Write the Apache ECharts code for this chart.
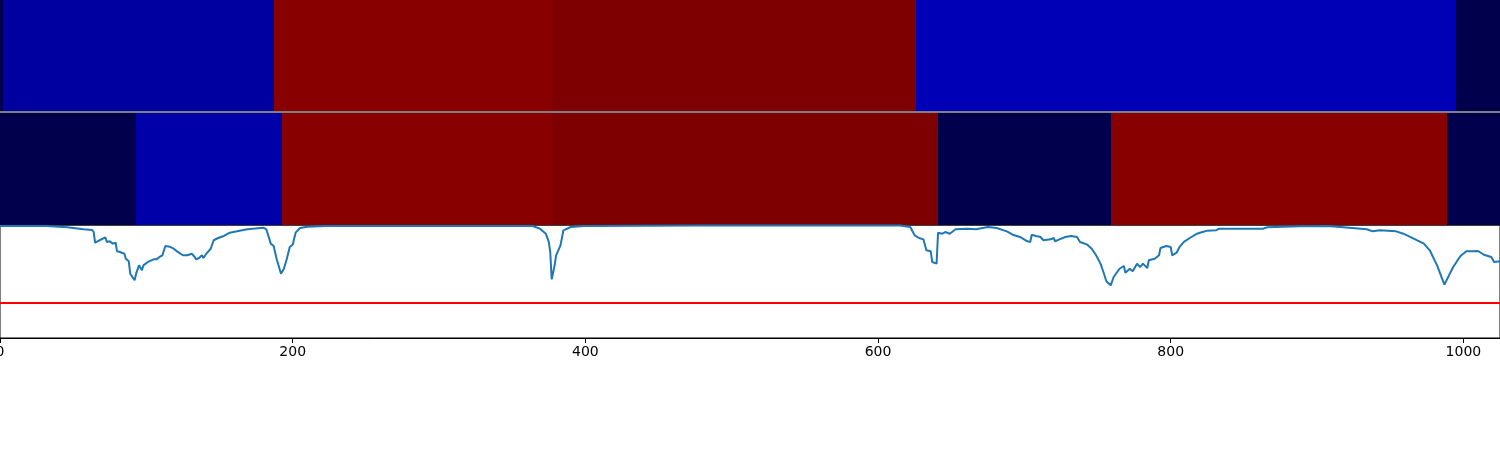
<!DOCTYPE html>
<html>
<head>
<meta charset="utf-8">
<script src="https://cdn.jsdelivr.net/npm/echarts@6/dist/echarts.min.js"></script>
<style>html,body{margin:0;padding:0;background:#fff;}#c{width:1500px;height:450px;}</style>
</head>
<body>
<div id="c"></div>
<script>
// ---- data ----
const xMax = 1025;
const xTicks = [0, 200, 400, 600, 800, 1000];
// top row segments (edges along x, colormap level per segment, 0..1 seismic)
const topEdges  = [0, 2, 187, 377, 626, 995, 1025];
const topLevels = [0, 0.117, 0.983, 1.0, 0.15, 0];
// second row segments
const midEdges  = [0, 93, 193, 377, 641, 759, 989, 1025];
const midLevels = [0, 0.13, 0.983, 1.0, 0, 0.983, 0];
// line trace
const lineX = [0,14,32,46,57,63,64,65,68,72,73,75,77,79,80,82,85,86,88,89,90,92,93,95,97,98,101,105,107,109,111,113,116,118,121,125,128,131,133,134,136,138,139,141,144,146,149,153,157,162,169,180,182,185,187,189,192,194,196,198,200,202,205,210,223,294,364,369,373,375,376,377,379,380,383,385,390,399,478,547,615,622,625,628,631,633,636,637,640,641,644,646,649,653,661,667,675,681,688,692,697,702,704,705,708,711,713,718,720,721,724,728,729,732,736,738,743,746,749,752,754,756,759,761,765,768,769,772,774,777,779,781,784,785,789,792,793,797,800,801,804,806,809,813,818,820,825,831,833,863,866,888,907,918,934,938,943,954,959,966,973,977,982,987,993,998,1002,1007,1010,1014,1019,1021,1025];
const lineY = [0.991,0.992,0.991,0.980,0.962,0.956,0.938,0.843,0.865,0.891,0.850,0.856,0.835,0.843,0.767,0.761,0.746,0.702,0.679,0.569,0.560,0.511,0.569,0.643,0.599,0.643,0.673,0.696,0.696,0.717,0.732,0.814,0.808,0.796,0.767,0.732,0.732,0.746,0.717,0.696,0.708,0.732,0.708,0.746,0.790,0.865,0.885,0.903,0.932,0.944,0.962,0.976,0.962,0.835,0.814,0.702,0.569,0.613,0.702,0.805,0.826,0.932,0.973,0.985,0.991,0.992,0.991,0.967,0.923,0.850,0.761,0.519,0.643,0.732,0.820,0.953,0.982,0.991,0.995,0.995,0.996,0.982,0.909,0.885,0.873,0.776,0.767,0.673,0.658,0.932,0.923,0.938,0.923,0.962,0.967,0.962,0.982,0.973,0.944,0.914,0.894,0.856,0.850,0.914,0.903,0.894,0.865,0.873,0.885,0.856,0.873,0.894,0.885,0.903,0.894,0.850,0.826,0.790,0.732,0.658,0.584,0.502,0.466,0.540,0.613,0.637,0.578,0.613,0.590,0.658,0.628,0.658,0.619,0.688,0.702,0.732,0.796,0.814,0.805,0.732,0.755,0.805,0.850,0.885,0.923,0.932,0.950,0.953,0.967,0.967,0.980,0.988,0.991,0.980,0.962,0.944,0.953,0.944,0.923,0.879,0.835,0.776,0.643,0.472,0.628,0.726,0.767,0.767,0.770,0.737,0.717,0.673,0.679];
const thresholdX = [0, 1025];
const thresholdY = 0.31;

// ---- build ----
function segs(edges, levels) {
  const out = [];
  for (let i = 0; i < levels.length; i++) out.push([edges[i], edges[i + 1], levels[i]]);
  return out;
}
function renderSeg(params, api) {
  const a = api.coord([api.value(0), 1]);
  const b = api.coord([api.value(1), 0]);
  const x0 = Math.round(a[0]), x1 = Math.round(b[0]);
  const y0 = Math.round(a[1]), y1 = Math.round(b[1]);
  return {
    type: 'rect',
    shape: { x: x0, y: y0, width: x1 - x0, height: y1 - y0 },
    style: { fill: api.visual('color'), stroke: null, lineWidth: 0 }
  };
}
const hiddenX = (i) => ({ type: 'value', gridIndex: i, min: 0, max: xMax, show: false });
const hiddenY = (i) => ({ type: 'value', gridIndex: i, min: 0, max: 1, show: false });
const gridBase = { left: 0, right: 0, show: true, borderColor: '#000', borderWidth: 1, backgroundColor: 'transparent', containLabel: false, outerBoundsMode: 'none' };

const chart = echarts.init(document.getElementById('c'), null, { renderer: 'canvas' });
chart.setOption({
  animation: false,
  backgroundColor: '#fff',
  grid: [
    Object.assign({}, gridBase, { top: 0, height: 111 }),
    Object.assign({}, gridBase, { top: 113, height: 112 }),
    Object.assign({}, gridBase, { top: 225, height: 113 })
  ],
  xAxis: [
    hiddenX(0), hiddenX(1),
    {
      type: 'value', gridIndex: 2, min: 0, max: xMax, interval: 200,
      axisLine: { show: true, lineStyle: { color: '#000', width: 1 } },
      axisTick: { show: true, length: 5, lineStyle: { color: '#000', width: 1 } },
      axisLabel: {
        show: true, color: '#000', fontSize: 14, fontFamily: 'DejaVu Sans', margin: 7,
        formatter: (v) => (xTicks.indexOf(v) >= 0 ? String(v) : '')
      },
      splitLine: { show: false }
    }
  ],
  yAxis: [hiddenY(0), hiddenY(1), hiddenY(2)],
  visualMap: {
    show: false, type: 'continuous', min: 0, max: 1, dimension: 2, seriesIndex: [0, 1],
    inRange: { color: ['#00004c', '#0000ff', '#ffffff', '#ff0000', '#7f0000'] }
  },
  series: [
    { type: 'custom', xAxisIndex: 0, yAxisIndex: 0, renderItem: renderSeg, data: segs(topEdges, topLevels), encode: { x: [0, 1] }, z: 1 },
    { type: 'custom', xAxisIndex: 1, yAxisIndex: 1, renderItem: renderSeg, data: segs(midEdges, midLevels), encode: { x: [0, 1] }, z: 1 },
    {
      type: 'line', xAxisIndex: 2, yAxisIndex: 2, showSymbol: false, clip: true,
      data: lineX.map((x, i) => [x, lineY[i]]),
      lineStyle: { color: '#1f77b4', width: 2 }, itemStyle: { color: '#1f77b4' }
    },
    {
      type: 'line', xAxisIndex: 2, yAxisIndex: 2, showSymbol: false,
      data: thresholdX.map((x) => [x, thresholdY]),
      lineStyle: { color: '#ff0000', width: 2 }, itemStyle: { color: '#ff0000' }
    }
  ]
});
</script>
</body>
</html>
